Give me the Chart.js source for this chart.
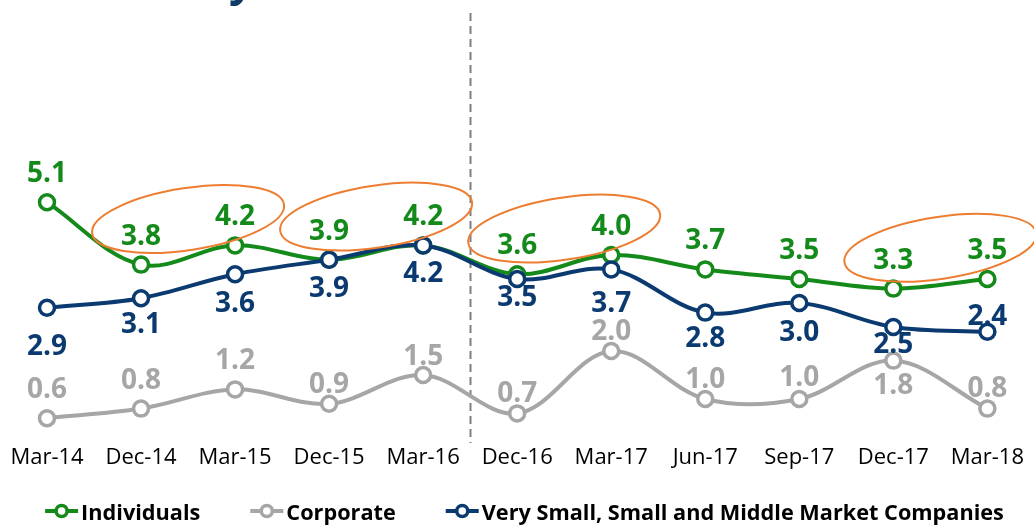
<!DOCTYPE html>
<html><head><meta charset="utf-8">
<script src="https://cdn.jsdelivr.net/npm/chart.js@4.4.1/dist/chart.umd.min.js"></script>
<style>html,body{margin:0;padding:0;background:#fff;overflow:hidden;}</style>
</head><body>
<canvas id="c" width="1034" height="525"></canvas>
<script>
const categories = ['Mar-14','Dec-14','Mar-15','Dec-15','Mar-16','Dec-16','Mar-17','Jun-17','Sep-17','Dec-17','Mar-18'];
const individuals = [5.1,3.8,4.2,3.9,4.2,3.6,4.0,3.7,3.5,3.3,3.5];
const corporate = [0.6,0.8,1.2,0.9,1.5,0.7,2.0,1.0,1.0,1.8,0.8];
const smeCompanies = [2.9,3.1,3.6,3.9,4.2,3.5,3.7,2.8,3.0,2.5,2.4];
const seriesNames = ['Individuals','Corporate','Very Small, Small and Middle Market Companies'];
const highlightPairs = [[1,2],[3,4],[5,6],[9,10]];
const dividerAfterIndex = 4;

// styling (not data)
const GREEN = '#138A1A', GRAY = '#A6A6A6', BLUE = '#0B3A70', ORANGE = '#ED7D31';
const labelOffsets = {
  0: [-30,-30,-30,-30,-30,-30,-30,-30,-30,-30,-30],
  1: [-30,-30,-30,-21,-20,-21,-21,-21,-23,23,-22],
  2: [37,25,28,27,27,17,33,24,28,16,-17]
};

function ds(label, data, color, order) {
  return {
    label, data, borderColor: color, backgroundColor: '#fff',
    borderWidth: 4, tension: 0.35, pointRadius: 7.5, pointBorderWidth: 3.5,
    pointBackgroundColor: '#fff', pointBorderColor: color, pointHoverRadius: 7.5,
    clip: false, order
  };
}

const extras = {
  id: 'extras',
  beforeDatasetsDraw(chart) {
    const {ctx, chartArea, scales:{x}} = chart;
    const xm = (x.getPixelForValue(dividerAfterIndex) + x.getPixelForValue(dividerAfterIndex+1)) / 2;
    ctx.save();
    ctx.strokeStyle = '#7F7F7F'; ctx.lineWidth = 2; ctx.setLineDash([8,5]);
    ctx.beginPath(); ctx.moveTo(Math.round(xm)+0.5, chartArea.top - 2); ctx.lineTo(Math.round(xm)+0.5, chartArea.bottom + 8); ctx.stroke();
    ctx.restore();
  },
  afterDatasetsDraw(chart) {
    const {ctx, scales:{x, y}} = chart;
    ctx.save();
    ctx.strokeStyle = ORANGE; ctx.lineWidth = 2;
    highlightPairs.forEach(([a,b]) => {
      const cx = (x.getPixelForValue(a) + x.getPixelForValue(b)) / 2;
      const cy = y.getPixelForValue((individuals[a] + individuals[b]) / 2) - 36;
      ctx.beginPath(); ctx.ellipse(cx, cy, 97, 31, -0.15, 0, Math.PI*2); ctx.stroke();
    });
    ctx.font = 'bold 28px "Open Sans"';
    ctx.textAlign = 'center'; ctx.textBaseline = 'alphabetic';
    [1,2,0].forEach(di => {
      const meta = chart.getDatasetMeta(di);
      const d = chart.data.datasets[di];
      ctx.fillStyle = d.borderColor;
      meta.data.forEach((pt, i) => {
        const cy = pt.y + labelOffsets[di][i];
        ctx.fillText(d.data[i].toFixed(1), pt.x, cy + 10);
      });
    });
    ctx.restore();
  },
  afterDraw(chart) {
    const {ctx} = chart;
    ctx.save();
    ctx.fillStyle = '#0E3C66'; ctx.font = 'bold 44px "Open Sans"'; ctx.textAlign = 'left'; ctx.textBaseline = 'alphabetic';
    ctx.fillText('y', 229, -5);
    const colors = [GREEN, GRAY, BLUE];
    ctx.font = 'bold 21.7px "Open Sans"';
    const mW = 33, gap = 3, spacing = 50;
    const widths = seriesNames.map(n => ctx.measureText(n).width);
    const total = widths.reduce((s,w)=>s+mW+gap+w,0) + spacing*(seriesNames.length-1);
    let xx = 524.5 - total/2;
    const ly = 511;
    seriesNames.forEach((n, i) => {
      ctx.strokeStyle = colors[i]; ctx.lineWidth = 4; ctx.setLineDash([]);
      ctx.beginPath(); ctx.moveTo(xx, ly); ctx.lineTo(xx+mW, ly); ctx.stroke();
      ctx.beginPath(); ctx.arc(xx+mW/2, ly, 5.5, 0, Math.PI*2); ctx.fillStyle = '#fff'; ctx.fill();
      ctx.lineWidth = 3.5; ctx.stroke();
      ctx.fillStyle = '#000'; ctx.textAlign = 'left';
      ctx.fillText(n, xx+mW+gap, 520);
      xx += mW + gap + widths[i] + spacing;
    });
    ctx.restore();
  }
};

new Chart(document.getElementById('c'), {
  type: 'line',
  data: {
    labels: categories,
    datasets: [
      ds(seriesNames[0], individuals, GREEN, 1),
      ds(seriesNames[1], corporate, GRAY, 2),
      ds(seriesNames[2], smeCompanies, BLUE, 0)
    ]
  },
  options: {
    responsive: false, animation: false, devicePixelRatio: 1,
    layout: { padding: { left: 47, right: 43, top: 15, bottom: 43.6 } },
    plugins: { legend: { display: false }, tooltip: { enabled: false }, title: { display: false } },
    scales: {
      x: {
        offset: false,
        grid: { display: false, drawTicks: false }, border: { display: false },
        ticks: { font: { family: 'Open Sans', size: 22 }, color: '#000', padding: 10, autoSkip: false, maxRotation: 0 }
      },
      y: { display: false, min: 0.25, max: 9 }
    }
  },
  plugins: [extras]
});
</script>
</body></html>
